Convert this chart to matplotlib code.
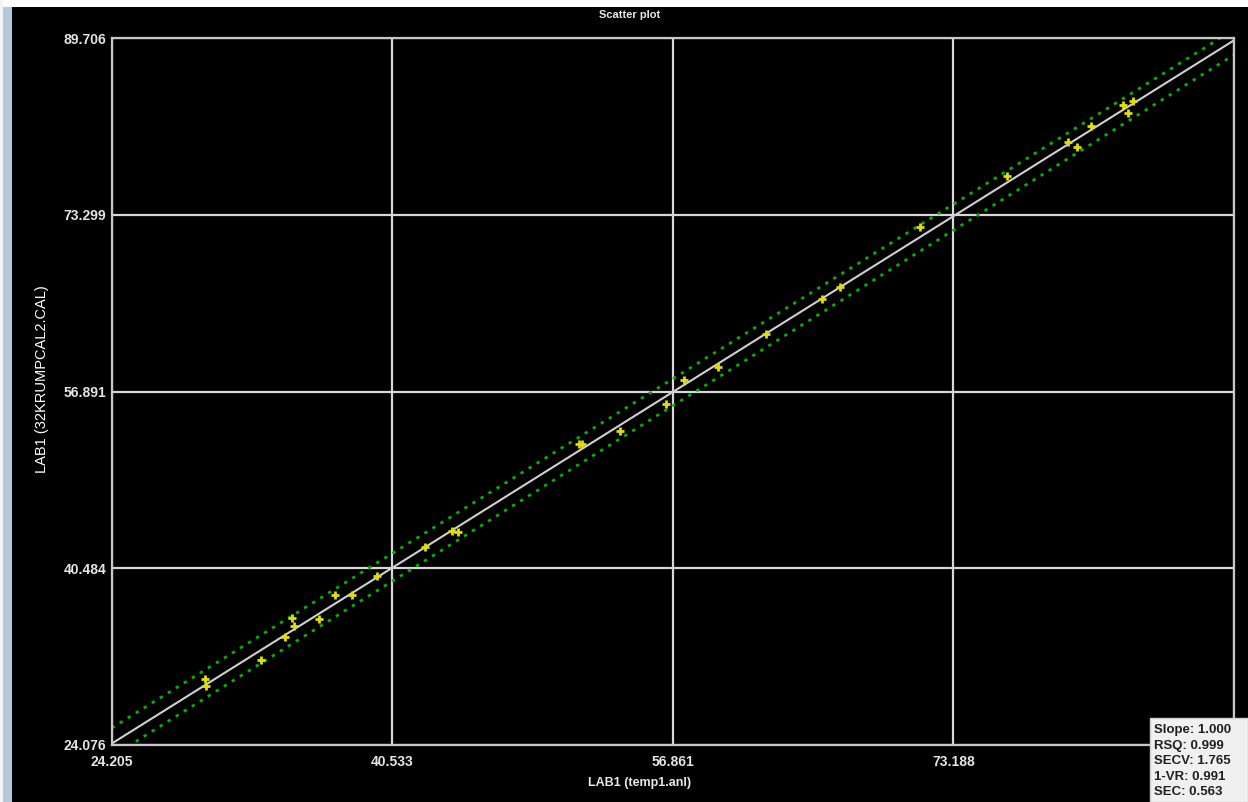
import matplotlib
matplotlib.use("Agg")
from matplotlib import pyplot as plt
from matplotlib.patches import Rectangle
import numpy as np

# lab reference (x) vs predicted (y)
lab_x = [29.63, 29.69, 32.89, 34.29, 34.70, 34.82, 36.27, 37.20, 38.19, 39.64,
         42.44, 44.01, 44.36, 51.40, 51.57, 53.78, 56.46, 57.51, 59.49, 62.28,
         65.54, 66.59, 71.24, 76.30, 79.85, 80.37, 81.19, 83.05, 83.34, 83.64]
pred_y = [30.21, 29.55, 31.97, 34.11, 35.87, 35.13, 35.78, 38.01, 38.01, 39.77,
          42.46, 43.95, 43.86, 52.03, 52.03, 53.24, 55.74, 57.97, 59.18, 62.25,
          65.50, 66.61, 72.18, 76.92, 80.08, 79.61, 81.56, 83.51, 82.77, 83.88]

x_ticks = [24.205, 40.533, 56.861, 73.188, 89.517]
x_labels = ["24.205", "40.533", "56.861", "73.188", ""]
y_ticks = [24.076, 40.484, 56.891, 73.299, 89.706]
y_labels = ["24.076", "40.484", "56.891", "73.299", "89.706"]

# band offsets from the 1:1 line at the left / right ends
band_upper = [1.45, 1.0]
band_lower = [-1.2, -1.35]

stats = ["Slope: 1.000", "RSQ: 0.999", "SECV: 1.765", "1-VR: 0.991", "SEC: 0.563"]

W, H = 1248, 802
fig = plt.figure(figsize=(W / 100, H / 100), dpi=100, facecolor="black")
fig.patches.append(Rectangle((0, 1 - 7 / H), 1, 7 / H, transform=fig.transFigure,
                             facecolor="white", edgecolor="none", zorder=-1))
fig.patches.append(Rectangle((0, 0), 3 / W, 1, transform=fig.transFigure,
                             facecolor="#f4f4f4", edgecolor="none", zorder=-1))
fig.patches.append(Rectangle((3 / W, 0), 9 / W, 1 - 7 / H, transform=fig.transFigure,
                             facecolor="#b4c8dc", edgecolor="none", zorder=-1))

ax = fig.add_axes([111.7 / W, 57 / H, (1234 - 111.7) / W, (745 - 38.3) / H])
ax.set_facecolor("black")

xlo, xhi = x_ticks[0], x_ticks[-1]
ylo, yhi = y_ticks[0], y_ticks[-1]
ax.set_xlim(xlo, xhi)
ax.set_ylim(ylo, yhi)

ax.grid(True, color="#d8d8d8", linewidth=1.6, zorder=1)
ax.set_axisbelow(True)

ends = np.array([xlo, xhi])
ax.plot(ends, ends, color="#d0d0d0", linewidth=1.5, zorder=2)
ax.plot(ends, ends + np.array(band_upper), color="#00b400", linewidth=2,
        linestyle=(0, (1.2, 2.2)), zorder=2)
ax.plot(ends, ends + np.array(band_lower), color="#00b400", linewidth=2,
        linestyle=(0, (1.2, 2.2)), zorder=2)

ax.plot(lab_x, pred_y, linestyle="none", marker="+", markersize=6,
        markeredgewidth=2, color="#e0e000", zorder=3)

for s in ax.spines.values():
    s.set_color("#c8c8c8")
    s.set_linewidth(1.6)

tick_font = dict(family="Liberation Sans", weight="bold", size=10)
ax.set_xticks(x_ticks)
ax.set_xticklabels(x_labels, color="#e4e4e4", **tick_font)
ax.set_yticks(y_ticks)
ax.set_yticklabels(y_labels, color="#e4e4e4", **tick_font)
ax.tick_params(axis="both", length=0)
ax.tick_params(axis="x", pad=7)
ax.tick_params(axis="y", pad=4)

fig.text(630 / W, 1 - 15 / H, "Scatter plot", ha="center", va="center",
         color="#e8e8e8", family="Liberation Sans", weight="bold", size=8)
fig.text(640 / W, 1 - 783 / H, "LAB1 (temp1.anl)", ha="center", va="center",
         color="#e8e8e8", family="Liberation Sans", weight="bold", size=9)
fig.text(42 / W, 1 - 379 / H, "LAB1 (32KRUMPCAL2.CAL)", ha="center", va="center",
         rotation=90, color="white", family="Liberation Sans", size=10.5)

# stats box in the lower-right corner
fig.patches.append(Rectangle((1150 / W, 0), 98 / W, 84 / H, transform=fig.transFigure,
                             facecolor="#f0f0f0", edgecolor="#d0d0d0", linewidth=1,
                             zorder=5))
for i, s in enumerate(stats):
    fig.text(1154 / W, 1 - (730 + 15.5 * i) / H, s, ha="left", va="center",
             color="#202020", family="Liberation Sans", weight="bold", size=9.5,
             zorder=6)

fig.savefig("out.png", dpi=100, facecolor=fig.get_facecolor())
